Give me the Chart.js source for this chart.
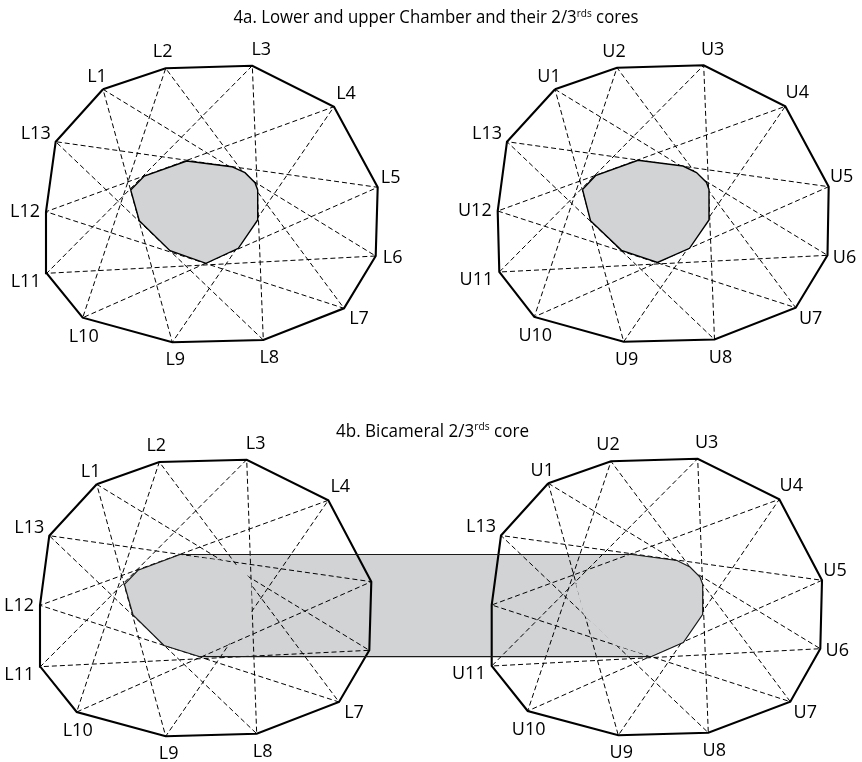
<!DOCTYPE html>
<html lang="en">
<head>
    <meta charset="UTF-8">
    <title>4a / 4b - Chamber cores</title>
    <script src="https://cdn.jsdelivr.net/npm/chart.js"></script>
    <style>
        body { margin: 0; background: #fff; }
        canvas { display: block; }
    </style>
</head>
<body>
<canvas id="coreChart" width="862" height="762"></canvas>
<script>
    // vertex labels (the upper chamber's 13th seat is labelled L13 in the source)
    const lowerLabels = ['L1','L2','L3','L4','L5','L6','L7','L8','L9','L10','L11','L12','L13'];
    const upperLabels = ['U1','U2','U3','U4','U5','U6','U7','U8','U9','U10','U11','U12','L13'];

    // 4a lower chamber
    const lowerX = [103, 165.7, 252.3, 334, 377.7, 375.7, 344, 263.3, 172.3, 82.7, 46.7, 46, 55.7];
    const lowerY = [89.3, 68.3, 65.7, 106.7, 187.3, 256, 308.3, 340, 342.3, 317.7, 273.3, 211.7, 141.7];
    // 4a upper chamber
    const upperX = [555, 617, 703.7, 785.3, 828.7, 827.5, 795.7, 714.5, 623.7, 534.3, 499.3, 497.7, 507];
    const upperY = [89.3, 67.7, 65.3, 106.3, 186.7, 255.3, 307.7, 339.5, 341.7, 316.9, 272, 211, 141.7];
    // 4b lower / upper chamber
    const biLowerX = [96.7, 159.3, 246.7, 328.3, 371.3, 369.3, 339, 256.7, 165.7, 76.7, 40.3, 40, 49.3];
    const biLowerY = [484.3, 462, 459.7, 500.3, 581.7, 650.3, 702, 733.7, 736.3, 712, 666.7, 605.3, 535.7];
    const biUpperX = [548.3, 611, 697.7, 779.3, 822, 820.3, 790.3, 708.3, 618.3, 527.7, 491.7, 491.7, 501];
    const biUpperY = [483.3, 461.3, 458.7, 499.3, 580.3, 648.7, 701.7, 732.7, 735.3, 711, 666, 605, 535.5];

    // 2/3rds cores (4a)
    const lowerCoreX = [130.7, 144.3, 186.7, 231.7, 245, 255, 257.7, 257.7, 238.3, 206, 170, 139.3];
    const lowerCoreY = [190, 176, 161, 166.7, 172.7, 182.7, 190, 220, 248.3, 263.3, 250.7, 220.7];
    const upperCoreX = [582.5, 595.5, 638, 683, 696.5, 706.5, 709, 709, 689.5, 657.5, 621.5, 590.5];
    const upperCoreY = [189.5, 175.7, 160.3, 166, 172.5, 182.5, 189.5, 220, 248.3, 262.5, 250.3, 220.7];

    // bicameral core (4b): band outline and the two lobes
    const bandX = [180, 632, 677, 690, 700, 702.7, 702.7, 683.3, 651, 200, 164, 133, 124.4, 138, 180];
    const bandY = [554.5, 554.5, 560.5, 567, 577, 584.3, 614.3, 642.6, 656.7, 656.7, 645.5, 615, 584.3, 570.3, 554.5];
    const lobeLX = [124.4, 138, 180.4, 225.4, 238.7, 248.7, 251.4, 251.4, 232, 199.7, 163.7, 133];
    const lobeUX = [576, 589.5, 632, 677, 690, 700, 702.5, 702.5, 683, 651, 615, 584];
    const lobeY = [584.3, 570.3, 555.3, 561, 567, 577, 584.3, 614.3, 642.6, 656.5, 645, 615];

    // labels covered by the bicameral band in 4b
    const biLowerHidden = ['L5', 'L6'];
    const biUpperHidden = ['U12'];

    const ringOrder = [0,1,2,3,4,5,6,7,8,9,10,11,12,0];
    const starOrder = [0,5,10,2,7,12,4,9,1,6,11,3,8,0];   // {13/5} star
    const coreGray = '#d1d3d4';

    function pts(xs, ys, idx) {
        return idx.map(i => ({x: xs[i], y: ys[i]}));
    }
    function closed(xs, ys) {
        const idx = xs.map((_, i) => i);
        idx.push(0);
        return pts(xs, ys, idx);
    }
    function lineSet(data, opts) {
        return Object.assign({data: data, showLine: true, pointRadius: 0, borderColor: '#000',
            backgroundColor: 'rgba(0,0,0,0)', fill: false, tension: 0}, opts);
    }

    const chambers = [
        {xs: lowerX, ys: lowerY, labels: lowerLabels, hidden: []},
        {xs: upperX, ys: upperY, labels: upperLabels, hidden: []},
        {xs: biLowerX, ys: biLowerY, labels: lowerLabels, hidden: biLowerHidden},
        {xs: biUpperX, ys: biUpperY, labels: upperLabels, hidden: biUpperHidden}
    ];

    const datasets = [];
    chambers.forEach(c => {
        datasets.push(lineSet(pts(c.xs, c.ys, ringOrder), {borderWidth: 2.1, order: 1}));
        datasets.push(lineSet(pts(c.xs, c.ys, starOrder), {borderWidth: 1, borderDash: [5, 3], order: 3}));
    });
    datasets.push(lineSet(closed(lowerCoreX, lowerCoreY), {borderWidth: 1.4, backgroundColor: coreGray, fill: 'shape', order: 2}));
    datasets.push(lineSet(closed(upperCoreX, upperCoreY), {borderWidth: 1.4, backgroundColor: coreGray, fill: 'shape', order: 2}));
    datasets.push(lineSet(closed(lobeLX, lobeY), {borderWidth: 0, borderColor: coreGray, backgroundColor: coreGray, fill: 'shape', order: 2}));
    datasets.push(lineSet(closed(lobeUX, lobeY), {borderWidth: 0, borderColor: coreGray, backgroundColor: coreGray, fill: 'shape', order: 2}));
    datasets.push(lineSet(pts(bandX, bandY, bandX.map((_, i) => i)), {borderWidth: 0, borderColor: coreGray, backgroundColor: coreGray, fill: 'shape', order: 4}));
    datasets.push(lineSet(pts(bandX, bandY, bandX.map((_, i) => i)), {borderWidth: 1.2, borderColor: '#1a1a1a', order: 0}));

    // label placement around each vertex (offsets, px)
    const labelOffsets = [[-6,-14],[-3,-17.5],[9,-17],[12,-14.5],[13,-11],[17,1],[15,9.5],[6,17],[3,16.5],[1,18],[-6,7],[-6,-1],[-5,-9.5]];

    function drawTitle(ctx, parts, x, y, width) {
        let natural = 0;
        parts.forEach(p => { ctx.font = p.size + 'px "Open Sans"'; natural += ctx.measureText(p.text).width; });
        ctx.save();
        ctx.translate(x, y);
        ctx.scale(width / natural, 1);
        let cx = 0;
        parts.forEach(p => {
            ctx.font = p.size + 'px "Open Sans"';
            ctx.fillText(p.text, cx, -(p.rise || 0));
            cx += ctx.measureText(p.text).width;
        });
        ctx.restore();
    }

    const textPlugin = {
        id: 'textPlugin',
        afterDraw(chart) {
            const ctx = chart.ctx;
            const sx = chart.scales.x, sy = chart.scales.y;
            ctx.save();
            ctx.fillStyle = '#000';
            ctx.textBaseline = 'alphabetic';
            ctx.font = '18px "Open Sans"';
            chambers.forEach(c => {
                c.labels.forEach((lab, i) => {
                    if (c.hidden.includes(lab)) return;
                    const px = sx.getPixelForValue(c.xs[i]) + labelOffsets[i][0];
                    const py = sy.getPixelForValue(c.ys[i]) + labelOffsets[i][1] + 6.4;
                    ctx.textAlign = i >= 10 ? 'right' : 'center';
                    ctx.fillText(lab, px, py);
                });
            });
            ctx.textAlign = 'left';
            drawTitle(ctx, [
                {text: '4a. Lower and upper Chamber and their 2/3', size: 17.5},
                {text: 'rds', size: 10.5, rise: 6.5},
                {text: ' cores', size: 17.5}
            ], 233.5, 23, 405);
            drawTitle(ctx, [
                {text: '4b. Bicameral 2/3', size: 17.5},
                {text: 'rds', size: 10.5, rise: 6.5},
                {text: ' core', size: 17.5}
            ], 336, 436.5, 193);
            ctx.restore();
        }
    };

    new Chart(document.getElementById('coreChart'), {
        type: 'scatter',
        data: {datasets: datasets},
        options: {
            responsive: false,
            animation: false,
            devicePixelRatio: 1,
            layout: {padding: 0},
            scales: {
                x: {type: 'linear', min: 0, max: 862, display: false},
                y: {type: 'linear', min: 0, max: 762, reverse: true, display: false}
            },
            plugins: {legend: {display: false}, tooltip: {enabled: false}}
        },
        plugins: [textPlugin]
    });
</script>
</body>
</html>
